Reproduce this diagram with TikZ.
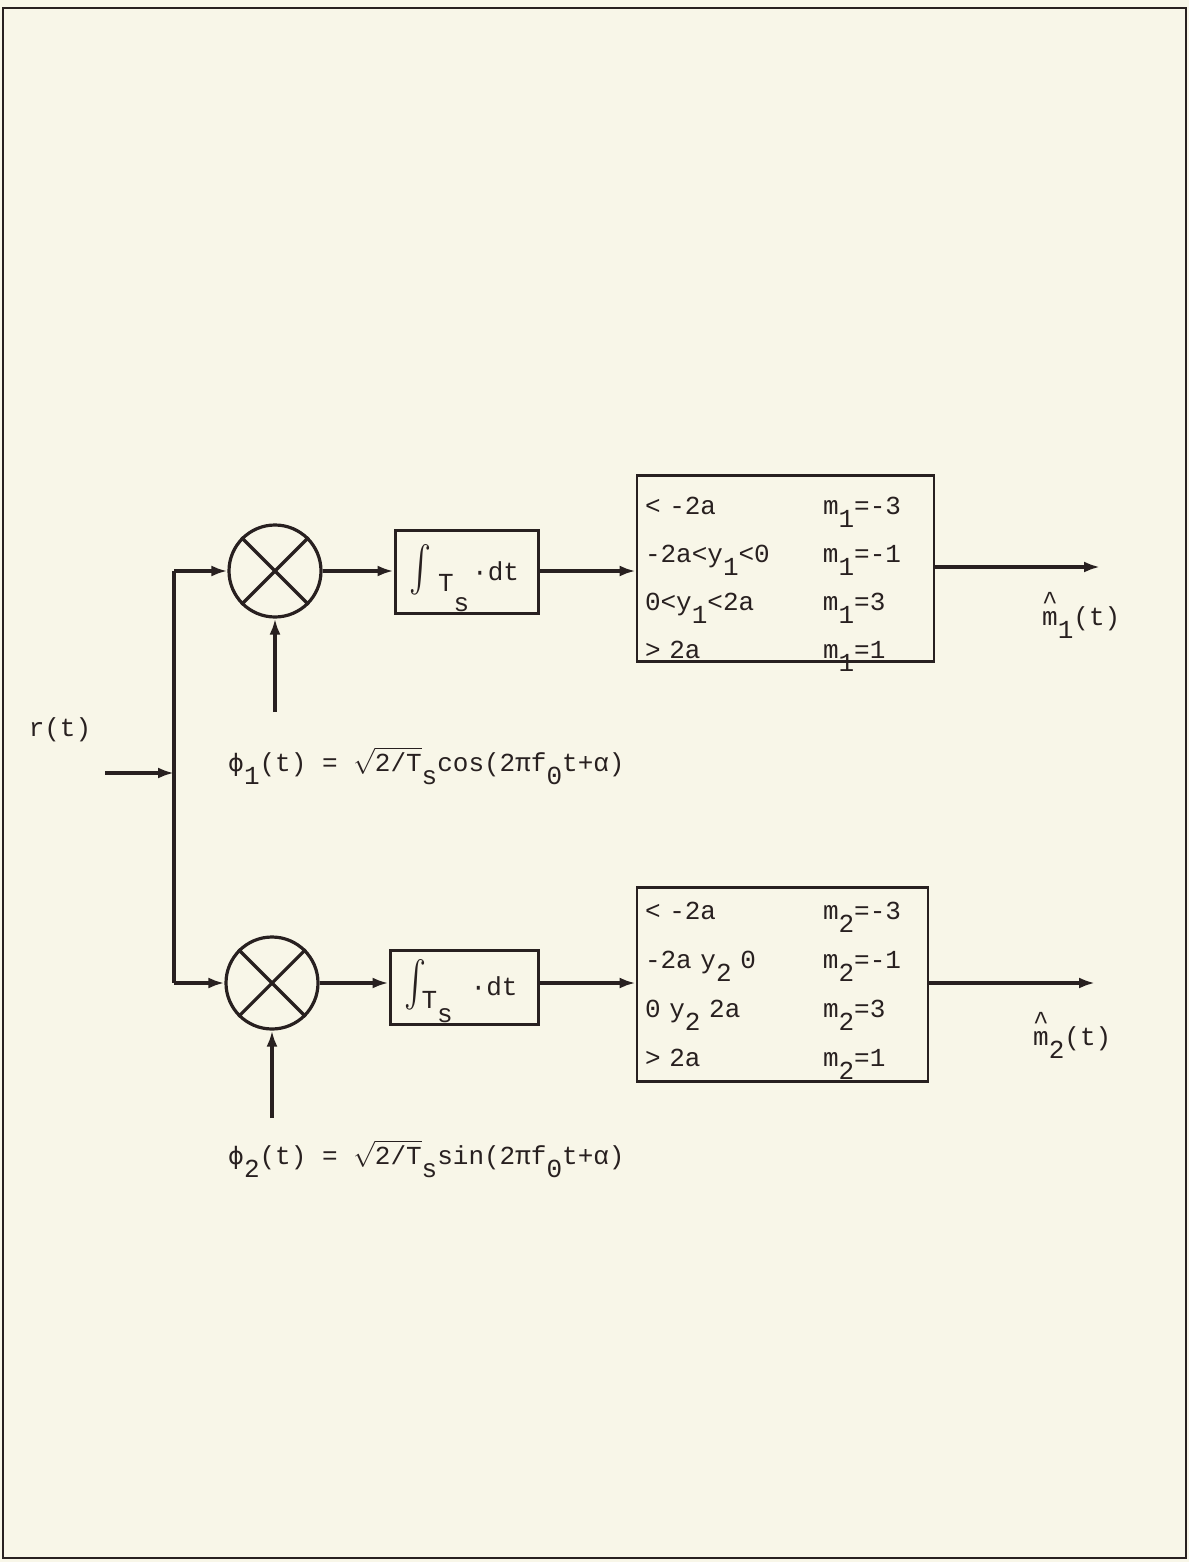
\RequirePackage{fix-cm}
\documentclass[tikz,border=0pt]{standalone}
\usepackage{graphicx}
\usepackage{fontspec}
\setmainfont{Liberation Mono}
\newfontfamily\dvsans{DejaVu Sans}
\usetikzlibrary{arrows.meta}
\definecolor{paper}{RGB}{248,246,232}
\definecolor{ink}{RGB}{40,32,32}
\newcommand{\txt}{\fontsize{26}{48}\selectfont}
\newcommand{\dn}[1]{\raisebox{-0.5em}[0pt][0pt]{#1}}
\newcommand{\dnby}[2]{\raisebox{#1}[0pt][0pt]{#2}}
\newcommand{\hatm}{\makebox[0pt][l]{\makebox[0.6em][c]{\raisebox{0.62em}{\symbol{94}}}}m}
\newcommand{\bigint}{\raisebox{-19pt}{\resizebox{22pt}{55pt}{$\intop$}}}
\newcommand{\sphi}{{\dvsans\fontsize{24}{48}\selectfont\symbol{"03D5}}}
\begin{document}
\begin{tikzpicture}[x=1pt,y=-1pt,
  wire/.style={line width=3.2pt, draw=ink},
  arr/.style={wire, -{Latex[length=16pt,width=11pt]}},
  mixer/.style={circle, draw=ink, line width=3.2pt, minimum size=92pt, inner sep=0pt},
  intbox/.style={rectangle, draw=ink, line width=3pt, inner sep=0pt, font=\txt, text=ink},
  decbox/.style={rectangle, draw=ink, line width=2.8pt, align=left, inner xsep=8pt, inner ysep=0pt, text=ink, anchor=north},
  lbl/.style={text=ink, font=\txt, inner sep=0pt}]
\fill[paper] (0,0) rectangle (1189,1562);
\draw[ink, line width=2.6pt] (3,8) rectangle (1186,1558);

% mixers
\node[mixer] (mix1) at (275,571) {};
\node[mixer] (mix2) at (272,983) {};
\foreach \m in {mix1,mix2}{
  \draw[wire] (\m.north east) -- (\m.south west);
  \draw[wire] (\m.north west) -- (\m.south east);
}

% integrators
\node[intbox, minimum width=143pt, minimum height=83pt] (int1) at (466.5,571.5)
  {\kern-4pt\bigint\kern6pt\dnby{-0.45em}{T\dnby{-0.75em}{s}}\kern3pt·dt};
\node[intbox, minimum width=148pt, minimum height=74pt] (int2) at (464,987)
  {\kern-6pt\bigint\kern-5pt\dnby{-0.5em}{T\dnby{-0.55em}{s}}\kern18pt·dt};

% decision boxes
\node[decbox, text width=281pt, font=\fontsize{26}{48}\selectfont] (dec1) at (785.5,474)
  {\rule{0pt}{39.5pt}\makebox[178pt][l]{< -2a}m\dn{1}=-3\\
   \makebox[178pt][l]{-2a<y\dn{1}<0}m\dn{1}=-1\\
   \makebox[178pt][l]{0<y\dn{1}<2a}m\dn{1}=3\\
   \makebox[178pt][l]{> 2a}m\dn{1}=1\rule[-2.5pt]{0pt}{2.5pt}};
\node[decbox, text width=275pt, font=\fontsize{26}{49}\selectfont] (dec2) at (782.5,886)
  {\rule{0pt}{32.5pt}\makebox[178pt][l]{< -2a}m\dn{2}=-3\\
   \makebox[178pt][l]{-2a y\dn{2} 0}m\dn{2}=-1\\
   \makebox[178pt][l]{0 y\dn{2} 2a}m\dn{2}=3\\
   \makebox[178pt][l]{> 2a}m\dn{2}=1\rule[-14.5pt]{0pt}{14.5pt}};

% input bus
\coordinate (rin) at (105,773);
\coordinate (busIn) at (174,773);
\coordinate (busTop) at (174,571);
\coordinate (busBot) at (174,983);
\draw[wire] (busTop) -- (busBot);
\draw[arr] (rin) -- (busIn);
\draw[arr] (busTop) -- (mix1.west);
\draw[arr] (busBot) -- (mix2.west);

% chains
\draw[arr] (mix1.east) -- (int1.west |- mix1.east);
\draw[arr] (mix2.east) -- (int2.west |- mix2.east);
\draw[arr] (int1.east |- mix1.east) -- (dec1.west |- mix1.east);
\draw[arr] (int2.east |- mix2.east) -- (dec2.west |- mix2.east);

% outputs
\coordinate (out1) at (1100,567);
\coordinate (out2) at (1095,983);
\draw[arr] (dec1.east |- out1) -- (out1);
\draw[arr] (dec2.east |- out2) -- (out2);

% carrier inputs
\coordinate (ph1) at (275,712);
\coordinate (ph2) at (272,1118);
\draw[arr] (ph1) -- (mix1.south);
\draw[arr] (ph2) -- (mix2.south);

% labels
\node[lbl] (lr) at (60,730) {r(t)};
\node[lbl, anchor=west] (lphi1) at (228,762)
  {\sphi\dn{1}(t) = $\sqrt{\mbox{2/T}}$\dn{s}cos(2πf\dn{0}t+α)};
\node[lbl, anchor=west] (lphi2) at (228,1155)
  {\sphi\dn{2}(t) = $\sqrt{\mbox{2/T}}$\dn{s}sin(2πf\dn{0}t+α)};
\node[lbl, anchor=west] (lm1) at (1042,612) {\hatm\dn{1}(t)};
\node[lbl, anchor=west] (lm2) at (1033,1032) {\hatm\dn{2}(t)};
\end{tikzpicture}
\end{document}
